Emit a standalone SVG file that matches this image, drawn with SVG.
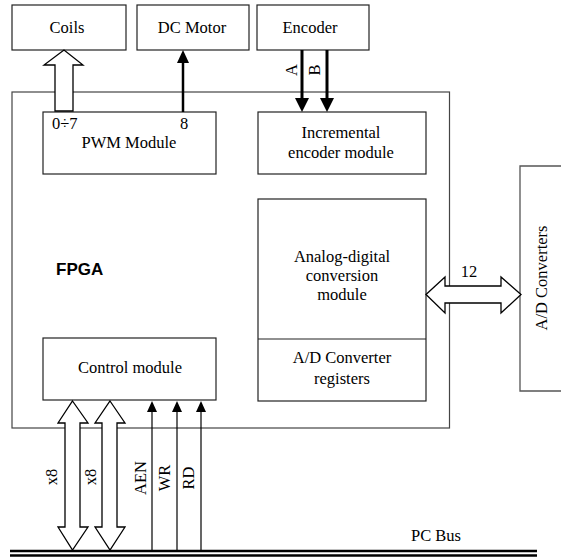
<svg xmlns="http://www.w3.org/2000/svg" width="561" height="557" viewBox="0 0 561 557">
<style>
.box{fill:#fff;stroke:#222;stroke-width:1.2}
.outer{fill:none;stroke:#444;stroke-width:1.2}
text.t{font-family:'Liberation Serif',serif;font-size:16.5px;fill:#000;text-anchor:middle}
text.st{text-anchor:start}
.hollow{fill:#fff;stroke:#000;stroke-width:1.3;stroke-linejoin:miter}
.thin{stroke:#000;stroke-width:1.2;fill:none}
</style>

<g id="fpga">
<rect class="outer" x="12" y="92" width="437.5" height="336"/>
<text x="56" y="275" font-family="Liberation Sans, Arial, sans-serif" font-weight="bold" font-size="17">FPGA</text>
</g>

<g id="coils"><rect class="box" x="12" y="5" width="114" height="45"/><text class="t" x="67" y="33" font-family="Liberation Serif">Coils</text></g>
<g id="dcmotor"><rect class="box" x="137" y="5" width="112" height="45"/><text class="t" x="192" y="33" font-family="Liberation Serif">DC Motor</text></g>
<g id="encoder"><rect class="box" x="257" y="5" width="112" height="45"/><text class="t" x="310" y="33" font-family="Liberation Serif">Encoder</text></g>

<g id="pwm"><rect class="box" x="43" y="112" width="173" height="62"/>
<text class="t st" x="52" y="129" font-family="Liberation Serif">0÷7</text>
<text class="t" x="184" y="129" font-family="Liberation Serif">8</text>
<text class="t" x="129" y="148" font-family="Liberation Serif">PWM Module</text></g>

<g id="incenc"><rect class="box" x="258" y="112" width="168" height="62"/>
<text class="t" x="341" y="138" font-family="Liberation Serif">Incremental</text>
<text class="t" x="341" y="158" font-family="Liberation Serif">encoder module</text></g>

<g id="adc"><rect class="box" x="258" y="199" width="168" height="202"/>
<line x1="258" y1="339" x2="426" y2="339" stroke="#222" stroke-width="1.2"/>
<text class="t" x="342" y="262" font-family="Liberation Serif">Analog-digital</text>
<text class="t" x="342" y="281" font-family="Liberation Serif">conversion</text>
<text class="t" x="342" y="300" font-family="Liberation Serif">module</text>
<text class="t" x="342" y="363" font-family="Liberation Serif">A/D Converter</text>
<text class="t" x="342" y="384" font-family="Liberation Serif">registers</text></g>

<g id="control"><rect class="box" x="43" y="338" width="173" height="62"/>
<text class="t" x="130" y="373" font-family="Liberation Serif">Control module</text></g>

<g id="adconv"><path d="M563,166 L520,166 L520,391 L563,391" fill="#fff" stroke="#555" stroke-width="1.3"/>
<text class="t" transform="translate(547,278) rotate(-90)" font-family="Liberation Serif">A/D Converters</text></g>

<g id="pcbus">
<line x1="10" y1="551" x2="537" y2="551" stroke="#000" stroke-width="2.5"/>
<line x1="10" y1="555.5" x2="537" y2="555.5" stroke="#000" stroke-width="2.5"/>
<text class="t" x="436" y="541" font-family="Liberation Serif">PC Bus</text>
</g>

<g id="connectors">
<path class="hollow" d="M55,111 L55,65 L44,65 L64,50 L83,65 L73,65 L73,111 z"/>
<line x1="183" y1="112" x2="183" y2="62" stroke="#000" stroke-width="2.5"/>
<path d="M177,63 L183,50 L189,63 z" fill="#000"/>
<line x1="302" y1="50" x2="302" y2="100" stroke="#000" stroke-width="3"/>
<path d="M295,98 L302,112 L309,98 z" fill="#000"/>
<line x1="327" y1="50" x2="327" y2="100" stroke="#000" stroke-width="3"/>
<path d="M320,98 L327,112 L334,98 z" fill="#000"/>
<text class="t" transform="translate(297,70) rotate(-90)" font-family="Liberation Serif">A</text>
<text class="t" transform="translate(320,70) rotate(-90)" font-family="Liberation Serif">B</text>
<path class="hollow" d="M426,294.5 L445,277 L445,286 L501,286 L501,277 L521,294.5 L501,313 L501,303 L445,303 L445,313 z"/>
<text class="t" x="469" y="277" font-family="Liberation Serif">12</text>
<path class="hollow" d="M72.5,401 L88,423 L80,423 L80,527 L88,527 L72.5,550 L58,527 L65,527 L65,423 L58,423 z"/>
<path class="hollow" d="M110,401 L125,423 L117,423 L117,527 L125,527 L110,550 L95,527 L102,527 L102,423 L95,423 z"/>
<text class="t" transform="translate(57,477) rotate(-90)" font-family="Liberation Serif">x8</text>
<text class="t" transform="translate(96,477) rotate(-90)" font-family="Liberation Serif">x8</text>
<line class="thin" x1="152" y1="550" x2="152" y2="410"/>
<path d="M147,412 L152,401 L157,412 z" fill="#000"/>
<line class="thin" x1="177" y1="550" x2="177" y2="410"/>
<path d="M172,412 L177,401 L182,412 z" fill="#000"/>
<line class="thin" x1="201" y1="550" x2="201" y2="410"/>
<path d="M196,412 L201,401 L206,412 z" fill="#000"/>
<text class="t" transform="translate(146,478) rotate(-90)" font-family="Liberation Serif">AEN</text>
<text class="t" transform="translate(170,478) rotate(-90)" font-family="Liberation Serif">WR</text>
<text class="t" transform="translate(194,478) rotate(-90)" font-family="Liberation Serif">RD</text>
</g>
</svg>
